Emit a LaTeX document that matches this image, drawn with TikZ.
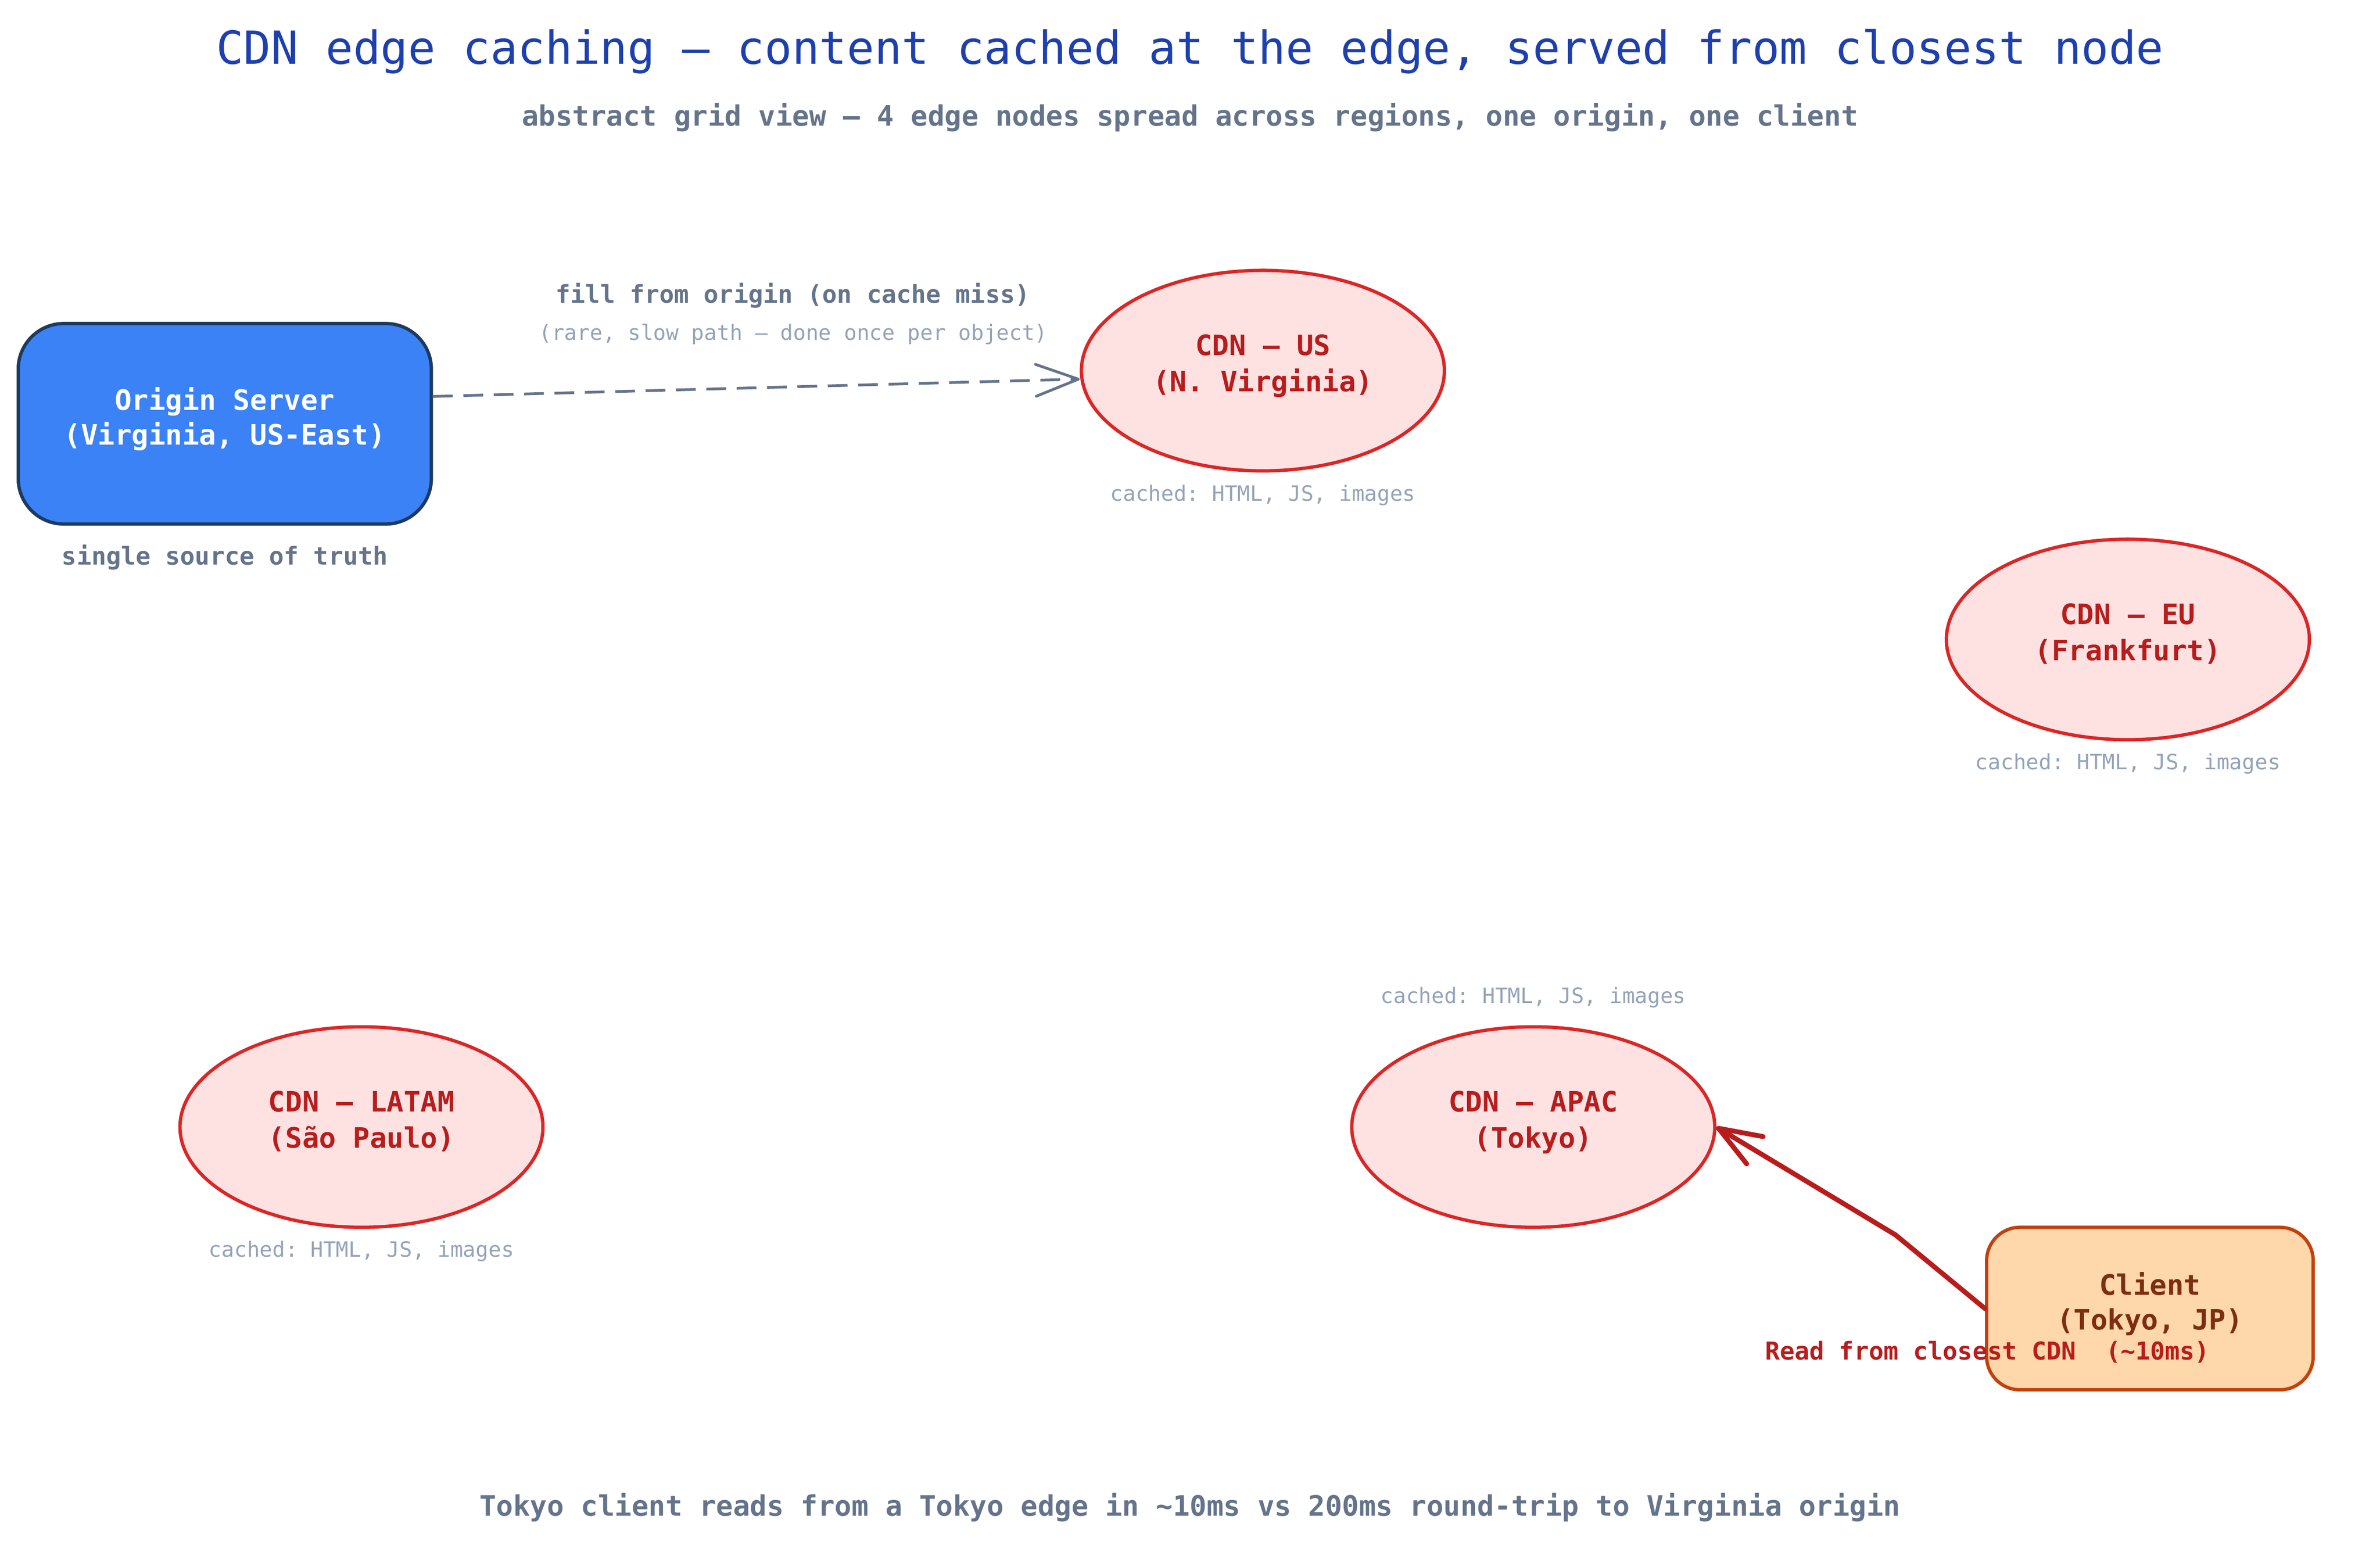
\documentclass[tikz,border=0pt]{standalone}
\usepackage{fontspec}
\setmonofont{DejaVu Sans Mono}
\usetikzlibrary{arrows.meta,shapes.geometric}
\definecolor{titleblue}{HTML}{1E40AF}
\definecolor{slate}{HTML}{64748B}
\definecolor{lightslate}{HTML}{94A3B8}
\definecolor{originfill}{HTML}{3B82F6}
\definecolor{originborder}{HTML}{1E3A5F}
\definecolor{cdnfill}{HTML}{FEE2E2}
\definecolor{cdnborder}{HTML}{DC2626}
\definecolor{cdntext}{HTML}{B91C1C}
\definecolor{clientfill}{HTML}{FED7AA}
\definecolor{clientborder}{HTML}{C2410C}
\definecolor{clienttext}{HTML}{7C2D12}
\definecolor{readred}{HTML}{B91C1C}
\tikzset{
  edgecache/.style={ellipse, draw=cdnborder, fill=cdnfill, line width=2.2pt,
    minimum width=239pt, minimum height=132pt, inner sep=0pt, align=center, text depth=10pt,
    text=cdntext, font=\ttfamily\bfseries\fontsize{18.5}{24}\selectfont},
  originbox/.style={rectangle, rounded corners=30pt, draw=originborder, fill=originfill,
    line width=2.2pt, minimum width=272pt, minimum height=132pt, inner sep=0pt, text depth=10pt,
    align=center, text=white, font=\ttfamily\bfseries\fontsize{18.5}{23}\selectfont},
  clientbox/.style={rectangle, rounded corners=22pt, draw=clientborder, fill=clientfill,
    line width=2.2pt, minimum width=215pt, minimum height=107pt, inner sep=0pt, text depth=10pt,
    align=center, text=clienttext, font=\ttfamily\bfseries\fontsize{18.5}{23}\selectfont},
  cachednote/.style={anchor=base, inner sep=0pt, text=lightslate,
    font=\ttfamily\fontsize{13.9}{16}\selectfont},
  slatenote/.style={anchor=base, inner sep=0pt, text=slate,
    font=\ttfamily\bfseries\fontsize{16.2}{19}\selectfont},
  fillarrow/.style={draw=slate, line width=1.8pt, dash pattern=on 13pt off 7pt,
    -{Straight Barb[length=28pt,width=21pt,round]}},
  readarrow/.style={draw=readred, line width=3.2pt, line cap=round, line join=round,
    -{Straight Barb[length=28pt,width=21pt,round]}},
}
\begin{document}
\begin{tikzpicture}[x=1pt,y=-1pt]
\useasboundingbox (0,0) rectangle (1567,1019.7);
\fill[white] (0,0) rectangle (1567,1019.7);

% titles
\node[anchor=base, inner sep=0pt, text=titleblue, font=\ttfamily\fontsize{30.0}{36}\selectfont]
  (title) at (783.5,42) {CDN edge caching — content cached at the edge, served from closest node};
\node[anchor=base, inner sep=0pt, text=slate, font=\ttfamily\bfseries\fontsize{18.5}{22}\selectfont]
  (subtitle) at (783.5,83) {abstract grid view — 4 edge nodes spread across regions, one origin, one client};

% nodes
\node[originbox] (origin) at (148,279) {Origin Server\\(Virginia, US-East)};
\node[slatenote] (truth) at (148,372) {single source of truth};

\node[edgecache] (us) at (831.5,244) {CDN — US\\(N. Virginia)};
\node[cachednote] (uscache) at (831.5,330) {cached: HTML, JS, images};

\node[edgecache] (eu) at (1401,421) {CDN — EU\\(Frankfurt)};
\node[cachednote] (eucache) at (1401,506.6) {cached: HTML, JS, images};

\node[edgecache] (latam) at (238,742) {CDN — LATAM\\(São Paulo)};
\node[cachednote] (latamcache) at (238,827.6) {cached: HTML, JS, images};

\node[edgecache] (apac) at (1009.5,742) {CDN — APAC\\(Tokyo)};
\node[cachednote] (apaccache) at (1009.5,660.6) {cached: HTML, JS, images};

\node[clientbox] (client) at (1415.5,861.5) {Client\\(Tokyo, JP)};

% fill arrow
\draw[fillarrow] ([yshift=18pt]origin.east) -- ([yshift=-5.6pt]us.west);
\node[slatenote] (filllabel) at (522,199.6) {fill from origin (on cache miss)};
\node[cachednote] (filllabel2) at (522.3,223.8) {(rare, slow path — done once per object)};

% read arrow
\coordinate (bend) at (1248,813);
\draw[readarrow] (client.west) -- (bend) -- (apac.east);
\node[anchor=base, inner sep=0pt, text=cdntext, font=\ttfamily\bfseries\fontsize{16.2}{19}\selectfont]
  (readlabel) at (1308.5,895.3) {Read from closest CDN\ \ (\string~10ms)};

% footer
\node[anchor=base, inner sep=0pt, text=slate, font=\ttfamily\bfseries\fontsize{18.5}{22}\selectfont]
  (footer) at (783.5,998) {Tokyo client reads from a Tokyo edge in \string~10ms vs 200ms round-trip to Virginia origin};
\end{tikzpicture}
\end{document}
